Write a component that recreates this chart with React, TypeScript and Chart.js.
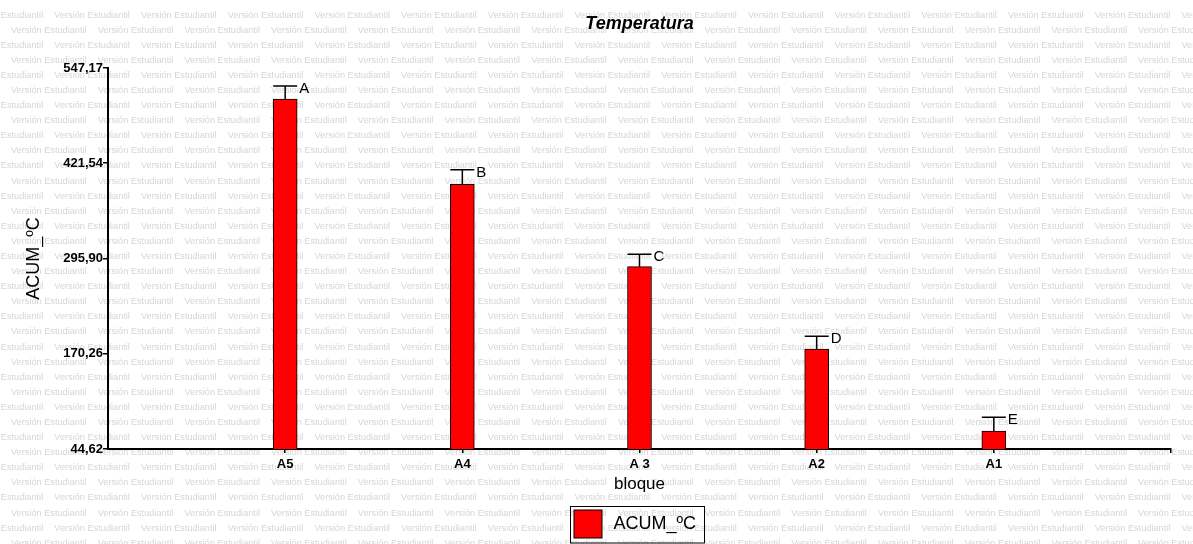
import React, { useEffect, useRef } from 'react';
import { Chart, registerables } from 'chart.js';

Chart.register(...registerables);

const categories = ['A5', 'A4', 'A 3', 'A2', 'A1'];
const means = [506.3, 393.8, 285.1, 176.5, 68.4];
const errors = [17.1, 19.2, 16.3, 16.8, 18.0];
const letters = ['A', 'B', 'C', 'D', 'E'];
const yTicks = [44.62, 170.26, 295.9, 421.54, 547.17];
const seriesLabel = 'ACUM_ºC';
const watermarkText = 'Versión Estudiantil';

const FAMILY = "'Liberation Sans', Arial, sans-serif";

export default function App() {
  const ref = useRef<HTMLCanvasElement>(null);

  useEffect(() => {
    const canvas = ref.current;
    if (!canvas) return;

    const watermark = {
      id: 'watermark',
      beforeDraw(chart: any) {
        const ctx = chart.ctx;
        ctx.save();
        ctx.fillStyle = '#ffffff';
        ctx.fillRect(0, 0, chart.width, chart.height);
        ctx.font = `9.2px ${FAMILY}`;
        ctx.fillStyle = '#d6d6d6';
        ctx.textBaseline = 'middle';
        ctx.textAlign = 'left';
        const period = 86.7;
        for (let k = 0; ; k++) {
          const y = 15 + 15.09 * k;
          if (y > chart.height + 10) break;
          const x0 = k % 2 === 0 ? -32.4 : 11;
          for (let x = x0 - period; x < chart.width; x += period) {
            ctx.fillText(watermarkText, x, y);
          }
        }
        ctx.restore();
      },
    };

    const errorBars = {
      id: 'errorBars',
      afterDatasetsDraw(chart: any) {
        const ctx = chart.ctx;
        const yScale = chart.scales.y;
        const meta = chart.getDatasetMeta(0);
        ctx.save();
        ctx.strokeStyle = '#000';
        ctx.fillStyle = '#000';
        ctx.lineWidth = 1.5;
        ctx.font = `15px ${FAMILY}`;
        ctx.textBaseline = 'middle';
        ctx.textAlign = 'left';
        meta.data.forEach((bar: any, i: number) => {
          const idx = i - 1;
          if (idx < 0 || idx >= means.length) return;
          const { x, width } = bar.getProps(['x', 'width'], true);
          const top = yScale.getPixelForValue(means[idx]);
          const capY = yScale.getPixelForValue(means[idx] + errors[idx]);
          ctx.beginPath();
          ctx.moveTo(x, top);
          ctx.lineTo(x, capY);
          ctx.moveTo(x - width / 2, capY);
          ctx.lineTo(x + width / 2, capY);
          ctx.stroke();
          ctx.fillText(letters[idx], x + width / 2 + 2, capY + 3);
        });
        ctx.restore();
      },
    };

    const boxLegend = {
      id: 'boxLegend',
      afterDraw(chart: any) {
        const ctx = chart.ctx;
        const area = chart.chartArea;
        const cx = (area.left + area.right) / 2 - 3;
        const left = Math.round(cx - 67) + 0.5;
        const top = 506.5;
        ctx.save();
        ctx.strokeStyle = '#000';
        ctx.lineWidth = 1;
        ctx.strokeRect(left, top, 134, 36.5);
        ctx.fillStyle = '#ff0000';
        ctx.fillRect(left + 3.5, top + 3.5, 28, 28);
        ctx.strokeRect(left + 3.5, top + 3.5, 28, 28);
        ctx.fillStyle = '#000';
        ctx.font = `18px ${FAMILY}`;
        ctx.textBaseline = 'middle';
        ctx.textAlign = 'left';
        ctx.fillText(chart.data.datasets[0].label, left + 43, top + 17.5);
        ctx.restore();
      },
    };

    const chart = new Chart(canvas, {
      type: 'bar',
      data: {
        labels: ['', ...categories, ''],
        datasets: [
          {
            label: seriesLabel,
            data: [null, ...means, null],
            backgroundColor: '#ff0000',
            borderColor: '#000000',
            borderWidth: 1,
            borderSkipped: false,
            barThickness: 24,
          },
        ],
      },
      options: {
        animation: false,
        responsive: false,
        layout: { padding: { left: 0, right: 22, top: 0, bottom: 0 } },
        plugins: {
          legend: { display: false },
          tooltip: { enabled: false },
          title: {
            display: true,
            text: 'Temperatura',
            fullSize: false,
            color: '#000',
            font: { family: FAMILY, size: 18, weight: 'bold', style: 'italic' },
            padding: { top: 13.2, bottom: 33.2 },
          },
        },
        scales: {
          x: {
            type: 'category',
            offset: false,
            grid: {
              display: true,
              drawOnChartArea: false,
              drawTicks: true,
              tickLength: 4,
              offset: false,
              lineWidth: 1.5,
              color: (c: any) => (c.index === 0 ? 'rgba(0,0,0,0)' : '#000'),
            },
            border: { display: true, color: '#000', width: 2 },
            ticks: {
              color: '#000',
              font: { family: FAMILY, size: 13, weight: 'bold' },
              padding: 4,
              maxRotation: 0,
              autoSkip: false,
            },
            title: {
              display: true,
              text: 'bloque',
              color: '#000',
              font: { family: FAMILY, size: 17 },
              padding: { top: 0, bottom: 49.8 },
            },
            afterFit: (s: any) => {
              s.height = 95;
            },
          },
          y: {
            type: 'linear',
            min: yTicks[0],
            max: yTicks[yTicks.length - 1],
            afterBuildTicks: (s: any) => {
              s.ticks = yTicks.map((v) => ({ value: v }));
            },
            grid: {
              drawOnChartArea: false,
              drawTicks: true,
              tickLength: 5,
              lineWidth: 1.5,
              color: '#000',
            },
            border: { display: true, color: '#000', width: 2 },
            ticks: {
              color: '#000',
              font: { family: FAMILY, size: 13, weight: 'bold' },
              padding: 0,
              callback: (v: any) => Number(v).toFixed(2).replace('.', ','),
            },
            title: {
              display: true,
              text: seriesLabel,
              color: '#000',
              font: { family: FAMILY, size: 18 },
              padding: { top: 23.2, bottom: 0 },
            },
            afterFit: (s: any) => {
              s.width = 108;
            },
          },
        },
      } as any,
      plugins: [watermark, errorBars, boxLegend],
    });

    return () => chart.destroy();
  }, []);

  return (
    <div style={{ position: 'absolute', left: 0, top: 0, width: 1193, height: 544 }}>
      <canvas ref={ref} width={1193} height={544} style={{ display: 'block' }} />
    </div>
  );
}
